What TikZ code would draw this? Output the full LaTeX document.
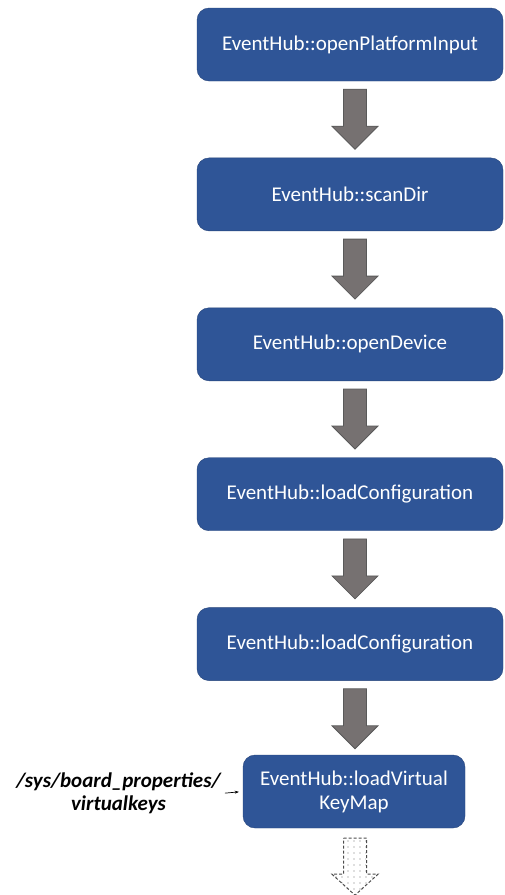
\documentclass[tikz,border=0pt]{standalone}
\usepackage{fontspec}
\setmainfont{Carlito}
\usetikzlibrary{positioning, arrows.meta, patterns.meta}
\definecolor{hubblue}{RGB}{47, 85, 151}
\definecolor{hubedge}{RGB}{38, 68, 122}
\definecolor{flowgray}{RGB}{118, 113, 113}

\begin{document}
\begin{tikzpicture}[x=1pt, y=1pt,
  hubbox/.style={draw=hubedge, fill=hubblue, rounded corners=12pt, text=white,
    font=\fontsize{21}{23}\selectfont, minimum width=306pt, minimum height=73pt,
    inner sep=0pt, align=center},
  flow/.style={draw=black!65, fill=flowgray, line width=0.8pt}]
  \useasboundingbox (0,0) rectangle (504,-895);
  \node[hubbox] (b1) at (350,-44.5) {EventHub::openPlatformInput};
  \node[hubbox, below=76.5pt of b1] (b2) {EventHub::scanDir};
  \node[hubbox, below=76.5pt of b2] (b3) {EventHub::openDevice};
  \node[hubbox, below=76.5pt of b3] (b4) {EventHub::loadConfiguration};
  \node[hubbox, below=76.5pt of b4] (b5) {EventHub::loadConfiguration};
  \node[hubbox, minimum width=222pt] (b6) at (354,-791.5) {EventHub::loadVirtual\\[1pt]KeyMap};
  % block arrows between the steps
  \foreach \a in {1,...,5}
    \draw[flow] ([xshift=5pt, yshift=-8pt]b\a.south) ++(-11.5,0) -- ++(23,0) -- ++(0,-37)
      -- ++(11.5,0) -- ++(-23,-23) -- ++(-23,23) -- ++(11.5,0) -- cycle;
  \draw[draw=black!70, dash pattern=on 3pt off 2pt, line width=1pt,
    pattern={Dots[distance=6pt, radius=0.7pt]}, pattern color=black!55]
    ([xshift=1pt, yshift=-10pt]b6.south) ++(-11.5,0) -- ++(23,0)
    -- ++(0,-36) -- ++(11.5,0) -- ++(-23,-21) -- ++(-23,21) -- ++(11.5,0) -- cycle;
  \node[font=\fontsize{21}{23}\selectfont\bfseries\itshape, align=center, inner sep=0pt]
    (vk) at (118.5,-793.5) {/sys/board\_properties/\\virtualkeys};
  \draw[-{Stealth[length=4pt, width=3pt]}, line width=0.7pt, shorten <=4pt, shorten >=4pt]
    (vk.east) -- (b6.west);
\end{tikzpicture}
\end{document}
